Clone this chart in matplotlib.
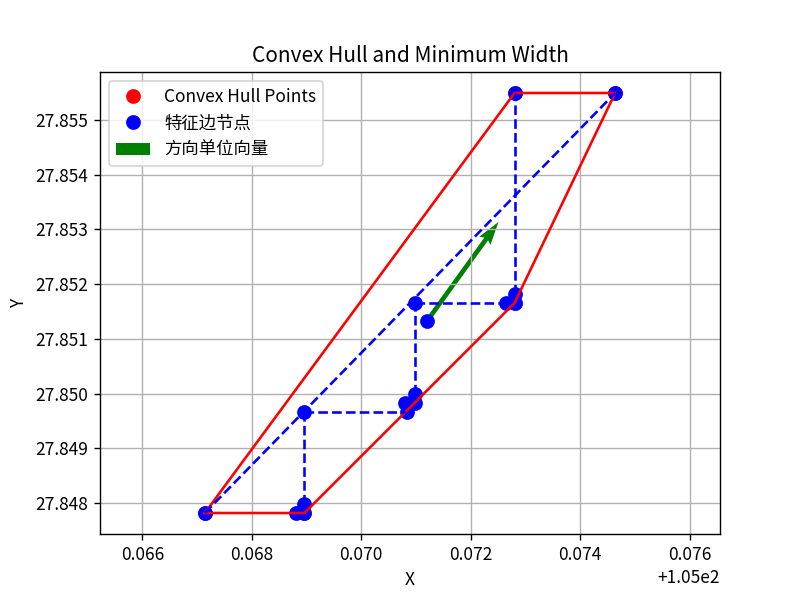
import numpy as np
import matplotlib
matplotlib.use("Agg")
import matplotlib.pyplot as plt

plt.rcParams["font.family"] = ["Noto Sans CJK SC", "DejaVu Sans"]
plt.rcParams["axes.unicode_minus"] = False

# convex hull vertices (closed in drawing order)
hull_x = [105.067140, 105.068960, 105.072801, 105.074640, 105.072801]
hull_y = [27.847817, 27.847817, 27.851656, 27.855494, 27.855494]

# feature-edge nodes
node_x = [105.067140, 105.068813, 105.068960, 105.068960, 105.068960,
          105.070835, 105.070798, 105.070982, 105.070982, 105.070982,
          105.072636, 105.072801, 105.072801, 105.072801, 105.074640,
          105.071202]
node_y = [27.847817, 27.847817, 27.847817, 27.847982, 27.849663,
          27.849663, 27.849828, 27.849828, 27.849992, 27.851656,
          27.851656, 27.851656, 27.851820, 27.855494, 27.855494,
          27.851327]

# dashed feature edges: (x0, x1), (y0, y1)
edge_x = [(105.067140, 105.074640), (105.068960, 105.068960),
          (105.068960, 105.070798), (105.070982, 105.070982),
          (105.070982, 105.072636), (105.072801, 105.072801)]
edge_y = [(27.847817, 27.855494), (27.847982, 27.849663),
          (27.849663, 27.849663), (27.849992, 27.851656),
          (27.851656, 27.851656), (27.851820, 27.855494)]

# direction unit vector (drawn from the centre point)
vec_origin = (105.071202, 27.851327)
vec_uv = (0.001305, 0.001810)

fig, ax = plt.subplots(figsize=(6.4, 4.8), dpi=125)

ax.plot(hull_x, hull_y, "ro", markersize=7.5, label="Convex Hull Points")
ax.plot(node_x, node_y, "bo", markersize=7.5, label="特征边节点")
ax.plot(hull_x + hull_x[:1], hull_y + hull_y[:1], "r-", lw=1.5)
for xs, ys in zip(edge_x, edge_y):
    ax.plot(xs, ys, "b--", lw=1.5)
ax.quiver(vec_origin[0], vec_origin[1], vec_uv[0], vec_uv[1],
          angles="xy", scale_units="xy", scale=1, color="green",
          label="方向单位向量")

ax.set_title("Convex Hull and Minimum Width")
ax.set_xlabel("X")
ax.set_ylabel("Y")
ax.grid(True)
ax.axis("equal")
ax.legend(loc="upper left")

fig.savefig("out.png", dpi=125)
